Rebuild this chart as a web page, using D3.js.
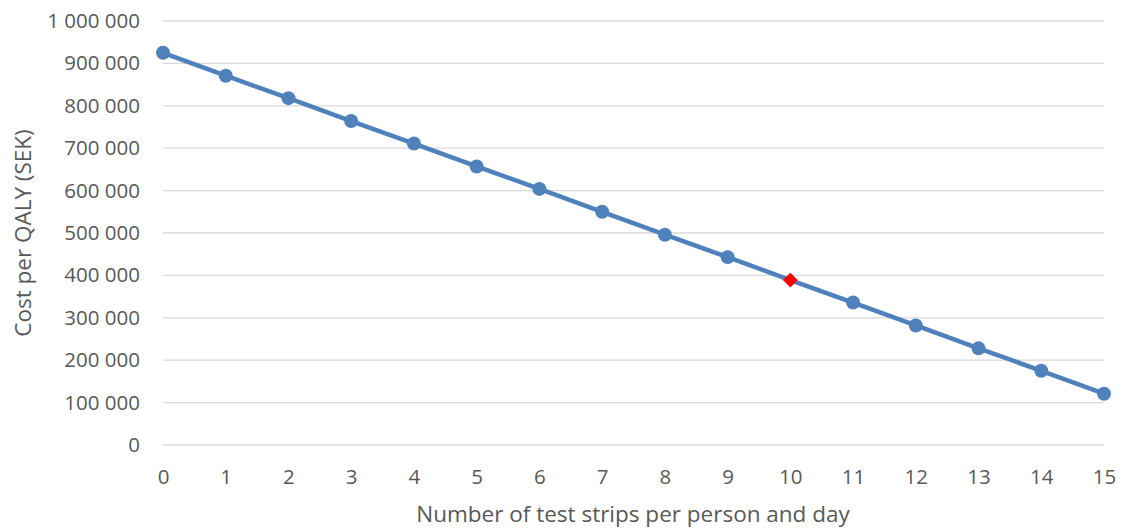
<!DOCTYPE html>
<html>
<head>
<meta charset="utf-8">
<script src="https://cdn.jsdelivr.net/npm/d3@7"></script>
<style>
  body { margin: 0; background: #fff; }
  text { font-family: "Open Sans", sans-serif; fill: #595959; }
</style>
</head>
<body>
<script>
//chart data
var strips = [0, 1, 2, 3, 4, 5, 6, 7, 8, 9, 10, 11, 12, 13, 14, 15];
var costPerQaly = [925000, 871000, 818000, 764000, 711000, 657000, 604000, 550000,
                   496000, 443000, 389000, 336000, 282000, 228000, 175000, 121000];
var highlightStrips = 10; //red diamond point
var yTicks = [0, 100000, 200000, 300000, 400000, 500000, 600000, 700000, 800000, 900000, 1000000];
var xTitle = "Number of test strips per person and day";
var yTitle = "Cost per QALY (SEK)";

window.onload = drawChart();

function drawChart(){

    var width = 1121,
        height = 528;

    var svg = d3.select("body")
        .append("svg")
        .attr("width", width)
        .attr("height", height);

    var x = d3.scaleLinear()
        .domain([0, 15])
        .range([163, 1104]);

    var y = d3.scaleLinear()
        .domain([0, 1000000])
        .range([445, 21]);

    //space as thousands separator
    var fmt = d3.formatLocale({decimal: ",", thousands: "\u00a0", grouping: [3], currency: ["", ""]}).format(",d");

    //gridlines
    svg.selectAll(".grid")
        .data(yTicks)
        .enter()
        .append("line")
        .attr("class", "grid")
        .attr("x1", x(0))
        .attr("x2", x(15))
        .attr("y1", function(d){ return y(d); })
        .attr("y2", function(d){ return y(d); })
        .attr("stroke", "#d9d9d9")
        .attr("stroke-width", 1.3);

    //y axis labels
    var yAxis = d3.axisLeft(y)
        .tickValues(yTicks)
        .tickFormat(fmt)
        .tickSize(0)
        .tickPadding(23);
    var gy = svg.append("g")
        .attr("transform", "translate(" + x(0) + ",0)")
        .call(yAxis);
    gy.select(".domain").remove();
    gy.selectAll("text")
        .attr("font-size", 20.5)
        .attr("font-family", null)
        .attr("fill", null);

    //x axis labels
    var xAxis = d3.axisBottom(x)
        .tickValues(strips)
        .tickSize(0)
        .tickPadding(24);
    var gx = svg.append("g")
        .attr("transform", "translate(0," + y(0) + ")")
        .call(xAxis);
    gx.select(".domain").remove();
    gx.selectAll("text")
        .attr("font-size", 20.5)
        .attr("font-family", null)
        .attr("fill", null);

    //axis titles
    svg.append("text")
        .attr("x", (x(0) + x(15)) / 2 - 0.5)
        .attr("y", 521.5)
        .attr("text-anchor", "middle")
        .attr("font-size", 22.5)
        .text(xTitle);

    svg.append("text")
        .attr("transform", "translate(22," + y(500000) + ") rotate(-90)")
        .attr("dominant-baseline", "central")
        .attr("text-anchor", "middle")
        .attr("font-size", 22.5)
        .text(yTitle);

    var points = strips.map(function(s, i){ return {s: s, v: costPerQaly[i]}; });

    //line
    var line = d3.line()
        .x(function(d){ return x(d.s); })
        .y(function(d){ return y(d.v); });

    svg.append("path")
        .datum(points)
        .attr("d", line)
        .attr("fill", "none")
        .attr("stroke", "#4f81bd")
        .attr("stroke-width", 4.5)
        .attr("stroke-linejoin", "round");

    //circle markers
    svg.selectAll(".dot")
        .data(points.filter(function(d){ return d.s !== highlightStrips; }))
        .enter()
        .append("circle")
        .attr("class", "dot")
        .attr("cx", function(d){ return x(d.s); })
        .attr("cy", function(d){ return y(d.v); })
        .attr("r", 7)
        .attr("fill", "#4f81bd");

    //highlighted diamond
    svg.selectAll(".diamond")
        .data(points.filter(function(d){ return d.s === highlightStrips; }))
        .enter()
        .append("path")
        .attr("class", "diamond")
        .attr("d", d3.symbol().type(d3.symbolSquare).size(110))
        .attr("transform", function(d){
            return "translate(" + x(d.s) + "," + y(d.v) + ") rotate(45)";
        })
        .attr("fill", "#ff0000");
};
</script>
</body>
</html>
